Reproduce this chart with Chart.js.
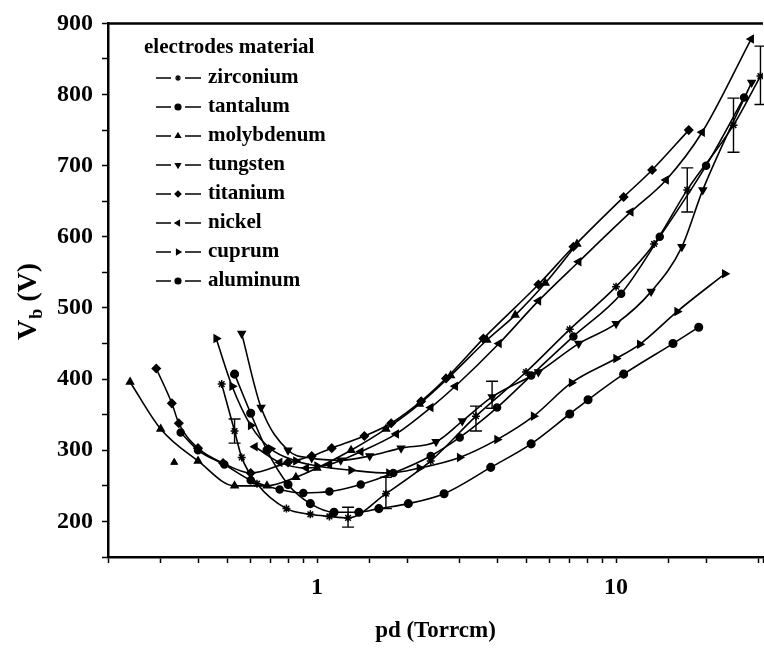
<!DOCTYPE html>
<html>
<head>
<meta charset="utf-8">
<script src="https://cdn.jsdelivr.net/npm/chart.js@4.4.1/dist/chart.umd.min.js"></script>
<style>
  html, body { margin: 0; padding: 0; background: #fff; }
  #wrap { width: 764px; height: 650px; }
</style>
</head>
<body>
<div id="wrap"><canvas id="vbChart" width="764" height="650"></canvas></div>
<script>
// Paschen curves, breakdown voltage vs pd for various electrode materials
const seriesNames = ['zirconium', 'tantalum', 'molybdenum', 'tungsten', 'titanium', 'nickel', 'cuprum', 'aluminum'];

const zirconiumPd = [0.48, 0.53, 0.56, 0.63, 0.79, 0.95, 1.1, 1.27, 1.7, 2.4, 3.4, 5, 7, 10, 13.4, 17.3, 24.7, 30.4];
const zirconiumVb = [393, 327, 290, 253, 218, 210, 207, 205, 239, 285, 348, 410, 470, 530, 590, 666, 757, 826];

const tantalumPd = [0.35, 0.40, 0.49, 0.6, 0.75, 0.9, 1.1, 1.4, 1.8, 2.4, 3.0, 4.0, 5.2, 7.2, 10.4, 14, 20, 26.8];
const tantalumVb = [325, 300, 280, 258, 245, 240, 242, 252, 268, 292, 318, 360, 405, 460, 520, 600, 700, 796];

const molybdenumPd = [0.237, 0.3, 0.4, 0.53, 0.68, 0.85, 1.0, 1.3, 1.7, 2.2, 2.8, 3.7, 4.6, 5.8, 7.4];
const molybdenumVb = [396, 330, 285, 250, 250, 262, 275, 300, 330, 365, 405, 455, 490, 535, 590];
// stray molybdenum point that the fitted curve does not pass through
const molybdenumExtraPd = [0.333];
const molybdenumExtraVb = [283];

const tungstenPd = [0.56, 0.65, 0.8, 0.96, 1.2, 1.5, 1.91, 2.5, 3.06, 3.85, 5.5, 7.5, 10, 13.1, 16.6, 19.5, 28.4];
const tungstenVb = [464, 360, 300, 289, 286, 292, 303, 312, 341, 375, 410, 450, 478, 523, 586, 666, 817];

const titaniumPd = [0.29, 0.327, 0.345, 0.40, 0.485, 0.6, 0.8, 0.96, 1.12, 1.44, 1.77, 2.23, 2.7, 3.6, 5.5, 7.2, 10.6, 13.2, 17.5];
const titaniumVb = [415, 366, 338, 303, 282, 268, 283, 292, 303, 320, 338, 369, 401, 457, 533, 586, 656, 694, 750];

const nickelPd = [0.62, 0.75, 0.92, 1.1, 1.4, 1.84, 2.4, 2.9, 4.06, 5.5, 7.5, 11.2, 14.7, 19.4, 28.3];
const nickelVb = [305, 283, 275, 280, 298, 323, 360, 390, 450, 510, 565, 635, 680, 747, 878];

const cuprumPd = [0.46, 0.52, 0.6, 0.7, 0.85, 1.0, 1.3, 1.74, 2.2, 3.0, 4.0, 5.3, 7.1, 10, 12, 16, 23.1];
const cuprumVb = [457, 390, 335, 302, 285, 278, 272, 268, 275, 290, 315, 348, 395, 429, 449, 495, 548];

const aluminumPd = [0.53, 0.6, 0.68, 0.8, 0.95, 1.14, 1.38, 1.61, 2.02, 2.66, 3.81, 5.2, 7.0, 8.06, 10.6, 15.5, 18.9];
const aluminumVb = [407, 352, 300, 252, 225, 213, 213, 218, 225, 239, 276, 309, 351, 371, 407, 450, 473];

// error bars (pd, low, high)
const errPd = [0.53, 1.27, 1.7, 3.4, 3.85, 17.3, 24.7, 30.4];
const errLo = [310, 192, 218, 327, 359, 635, 719, 786];
const errHi = [344, 220, 262, 362, 397, 697, 795, 868];

// axis ticks
const xLabelTicks = [1, 10];
const yMin = 150, yMax = 900, yStep = 50, yLabelStep = 100;

const markers = {
  zirconium: { style: 'star', rot: 0, r: 4 },
  tantalum: { style: 'circle', rot: 0, r: 3.5 },
  molybdenum: { style: 'triangle', rot: 0, r: 4 },
  tungsten: { style: 'triangle', rot: 180, r: 4 },
  titanium: { style: 'rectRot', rot: 0, r: 4 },
  nickel: { style: 'triangle', rot: 270, r: 4 },
  cuprum: { style: 'triangle', rot: 90, r: 4 },
  aluminum: { style: 'circle', rot: 0, r: 3.8 }
};

const seriesData = {
  zirconium: [zirconiumPd, zirconiumVb],
  tantalum: [tantalumPd, tantalumVb],
  molybdenum: [molybdenumPd, molybdenumVb],
  tungsten: [tungstenPd, tungstenVb],
  titanium: [titaniumPd, titaniumVb],
  nickel: [nickelPd, nickelVb],
  cuprum: [cuprumPd, cuprumVb],
  aluminum: [aluminumPd, aluminumVb]
};

const SERIF = "'Liberation Serif', 'Times New Roman', serif";

function toPoints(xs, ys) {
  return xs.map((x, i) => ({ x: x, y: ys[i] }));
}

const datasets = seriesNames.map(name => {
  const m = markers[name];
  return {
    label: name,
    data: toPoints(seriesData[name][0], seriesData[name][1]),
    showLine: true,
    borderColor: '#000',
    backgroundColor: '#000',
    borderWidth: 1.6,
    pointStyle: m.style,
    pointRotation: m.rot,
    pointRadius: m.r,
    pointBorderWidth: 1.5,
    cubicInterpolationMode: 'monotone',
    tension: 0.4
  };
});

datasets.push({
  label: 'molybdenum-extra',
  data: toPoints(molybdenumExtraPd, molybdenumExtraVb),
  showLine: false,
  borderColor: '#000',
  backgroundColor: '#000',
  pointStyle: 'triangle',
  pointRadius: 4
});

// error bars, legend box, top frame and the y title with subscript
const extrasPlugin = {
  id: 'extras',
  afterDatasetsDraw(chart) {
    const ctx = chart.ctx;
    const xs = chart.scales.x, ys = chart.scales.y;
    ctx.save();
    ctx.strokeStyle = '#000';
    ctx.lineWidth = 1.4;
    errPd.forEach((p, i) => {
      const px = xs.getPixelForValue(p);
      const y1 = ys.getPixelForValue(errLo[i]);
      const y2 = ys.getPixelForValue(errHi[i]);
      ctx.beginPath();
      ctx.moveTo(px, y1); ctx.lineTo(px, y2);
      ctx.moveTo(px - 6, y1); ctx.lineTo(px + 6, y1);
      ctx.moveTo(px - 6, y2); ctx.lineTo(px + 6, y2);
      ctx.stroke();
    });
    ctx.restore();
  },
  afterDraw(chart) {
    const ctx = chart.ctx;
    const area = chart.chartArea;
    ctx.save();

    // top frame line
    ctx.strokeStyle = '#000';
    ctx.lineWidth = 2.5;
    ctx.beginPath();
    ctx.moveTo(area.left, area.top);
    ctx.lineTo(area.right, area.top);
    ctx.stroke();

    // legend
    ctx.fillStyle = '#000';
    ctx.textBaseline = 'middle';
    ctx.textAlign = 'left';
    ctx.font = 'bold 21px ' + SERIF;
    ctx.fillText('electrodes material', 144, 48);
    seriesNames.forEach((name, i) => {
      const y = 78 + i * 29;
      const m = markers[name];
      ctx.lineWidth = 1.5;
      ctx.beginPath();
      ctx.moveTo(156, y); ctx.lineTo(171, y);
      ctx.moveTo(185, y); ctx.lineTo(201, y);
      ctx.stroke();
      ctx.lineWidth = 1.2;
      Chart.helpers.drawPoint(ctx, { pointStyle: m.style, rotation: m.rot, radius: 3, borderWidth: 1.2 }, 178, y);
      ctx.fillText(name, 208, y);
    });

    // y title: V_b (V)
    ctx.translate(27, 302);
    ctx.rotate(-Math.PI / 2);
    ctx.textBaseline = 'alphabetic';
    ctx.textAlign = 'left';
    ctx.font = 'bold 28px ' + SERIF;
    const wV = ctx.measureText('V').width;
    const rest = ' (V)';
    ctx.font = 'bold 18px ' + SERIF;
    const wb = ctx.measureText('b').width;
    ctx.font = 'bold 28px ' + SERIF;
    const wRest = ctx.measureText(rest).width;
    let x0 = -(wV + wb + wRest) / 2;
    ctx.fillText('V', x0, 9);
    ctx.font = 'bold 18px ' + SERIF;
    ctx.fillText('b', x0 + wV + 1, 15);
    ctx.font = 'bold 28px ' + SERIF;
    ctx.fillText(rest, x0 + wV + wb + 1, 9);
    ctx.restore();
  }
};

const chart = new Chart(document.getElementById('vbChart'), {
  type: 'scatter',
  data: { datasets: datasets },
  plugins: [extrasPlugin],
  options: {
    responsive: false,
    devicePixelRatio: 1,
    animation: false,
    layout: { autoPadding: false, padding: { top: 22, right: 1, left: 0, bottom: 0 } },
    plugins: {
      legend: { display: false },
      tooltip: { enabled: false }
    },
    scales: {
      x: {
        type: 'logarithmic',
        min: 0.2,
        max: 31,
        afterFit(scale) {
          scale.height = 93;
          scale.paddingRight = 0;
          scale.paddingLeft = 0;
        },
        border: { display: true, color: '#000', width: 2.5 },
        grid: { drawOnChartArea: false, color: '#000', tickColor: '#000', tickLength: 6, tickWidth: 1.5 },
        ticks: {
          autoSkip: false,
          maxRotation: 0,
          padding: 10,
          color: '#000',
          font: { family: SERIF, size: 24, weight: 'bold' },
          callback: function (v) {
            const hit = xLabelTicks.find(t => Math.abs(t - v) < 1e-6);
            return hit !== undefined ? String(hit) : '';
          }
        },
        title: {
          display: true,
          text: 'pd (Torrcm)',
          color: '#000',
          font: { family: SERIF, size: 23, weight: 'bold' },
          padding: { top: 0, bottom: 5 }
        }
      },
      y: {
        min: yMin,
        max: yMax,
        afterFit(scale) { scale.width = 108; },
        border: { display: true, color: '#000', width: 2.5 },
        grid: { drawOnChartArea: false, color: '#000', tickColor: '#000', tickLength: 6, tickWidth: 1.5 },
        ticks: {
          stepSize: yStep,
          padding: 9,
          color: '#000',
          font: { family: SERIF, size: 24, weight: 'bold' },
          callback: function (v) { return v % yLabelStep === 0 ? String(v) : ''; }
        }
      }
    }
  }
});
</script>
</body>
</html>
